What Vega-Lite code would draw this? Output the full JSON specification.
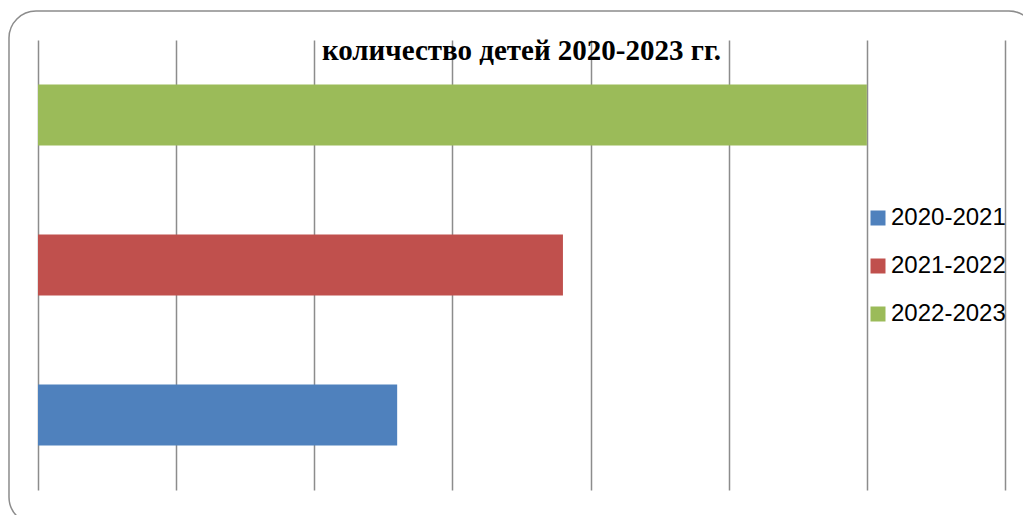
{
  "$schema": "https://vega.github.io/schema/vega-lite/v6.json",
  "width": 967,
  "height": 450,
  "autosize": "none",
  "padding": {"left": 38, "top": 40, "right": 18, "bottom": 25},
  "background": "white",
  "title": {
    "text": "количество детей 2020-2023 гг.",
    "font": "Liberation Serif",
    "fontWeight": "bold",
    "fontSize": 29,
    "color": "black",
    "anchor": "middle",
    "offset": -56
  },
  "config": {
    "view": {"stroke": null},
    "legend": {
      "orient": "none",
      "legendX": 828,
      "legendY": 166,
      "padding": 0,
      "symbolType": "square",
      "symbolSize": 225,
      "symbolStrokeWidth": 0,
      "labelFont": "Liberation Sans",
      "labelFontSize": 24,
      "labelColor": "black",
      "labelOffset": 1,
      "rowPadding": 24
    }
  },
  "layer": [
    {
      "data": {"values": [{"frame": "border"}]},
      "mark": {"type": "rect", "fill": null, "stroke": "#8c8c8c", "strokeWidth": 1.5, "cornerRadius": 27, "clip": false},
      "encoding": {
        "x": {"datum": -2.1, "type": "quantitative", "scale": {"domain": [0, 70]},
          "axis": {"grid": true, "values": [0, 10, 20, 30, 40, 50, 60, 70], "labels": false, "ticks": false, "domain": false, "title": null, "gridColor": "#8c8c8c", "gridWidth": 1.5}},
        "x2": {"datum": 72.24},
        "y": {"datum": -0.0756, "type": "quantitative", "scale": {"domain": [0, 1]}, "axis": null},
        "y2": {"datum": 1.0644}
      }
    },
    {
      "data": {"values": [
        {"season": "2020-2021", "value": 26},
        {"season": "2021-2022", "value": 38},
        {"season": "2022-2023", "value": 60}
      ]},
      "mark": {"type": "bar"},
      "encoding": {
        "x": {"field": "value", "type": "quantitative", "scale": {"domain": [0, 70]},
          "axis": {"grid": true, "values": [0, 10, 20, 30, 40, 50, 60, 70], "labels": false, "ticks": false, "domain": false, "title": null, "gridColor": "#8c8c8c", "gridWidth": 1.5}},
        "y": {"field": "season", "type": "nominal", "sort": "descending",
          "scale": {"paddingInner": 0.5933, "paddingOuter": 0.2967}, "axis": null},
        "color": {"field": "season", "type": "nominal",
          "scale": {"domain": ["2020-2021", "2021-2022", "2022-2023"], "range": ["#4F81BD", "#C0504D", "#9BBB59"]},
          "legend": {"title": null}}
      }
    }
  ],
  "resolve": {"scale": {"y": "independent"}}
}
